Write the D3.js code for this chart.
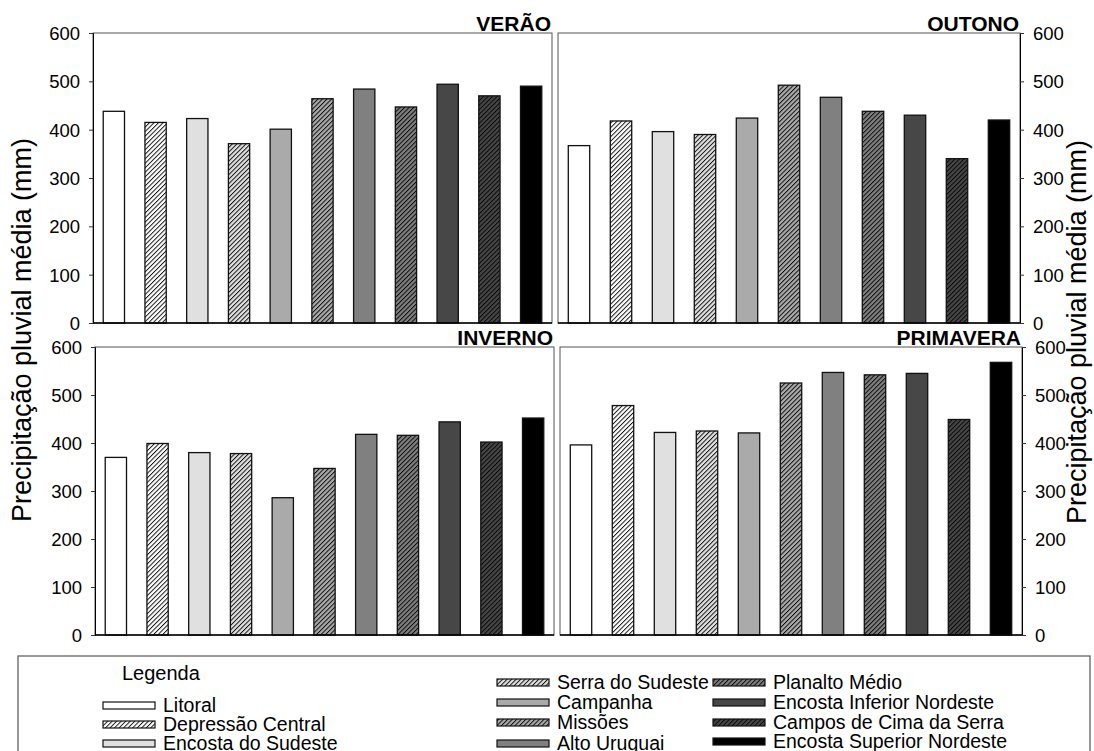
<!DOCTYPE html>
<html>
<head>
<meta charset="utf-8">
<title>Precipitação pluvial média por estação</title>
<script src="https://d3js.org/d3.v7.min.js"></script>
<style>
    html, body { margin: 0; padding: 0; background: #fff; }
    svg text { font-family: Arial, 'Liberation Sans', sans-serif; fill: #000; }
</style>
</head>
<body>
<div id="vis"></div>
<script>

// regions (one bar each) and seasons (one panel each)
var regions = ["Litoral", "Depressão Central", "Encosta do Sudeste", "Serra do Sudeste", "Campanha", "Missões",
               "Alto Uruguai", "Planalto Médio", "Encosta Inferior Nordeste", "Campos de Cima da Serra", "Encosta Superior Nordeste"];
var seasons = ["VERÃO", "OUTONO", "INVERNO", "PRIMAVERA"];

// mean rainfall (mm)
var verao     = [438, 415, 423, 371, 401, 464, 484, 447, 494, 470, 490];
var outono    = [367, 418, 396, 390, 424, 492, 467, 438, 430, 340, 420];
var inverno   = [370, 399, 380, 378, 286, 347, 418, 416, 444, 402, 452];
var primavera = [396, 478, 422, 425, 421, 525, 547, 542, 545, 449, 568];

var yTicks = [0, 100, 200, 300, 400, 500, 600];
var yTitle = "Precipitação pluvial média (mm)";
var legendTitle = "Legenda";

// styling per region
var fills   = ["#ffffff", "#ffffff", "#e0e0e0", "#e0e0e0", "#aaaaaa", "#aaaaaa", "#808080", "#808080", "#474747", "#474747", "#000000"];
var hatched = [false, true, false, true, false, true, false, true, false, true, false];

var W = 1094, H = 751;
var svg = d3.select('#vis').append('svg').attr('width', W).attr('height', H);
var defs = svg.append('defs');

// hatch patterns: fill colour + thin black "/" lines
fills.forEach(function(c, i) {
    if (!hatched[i]) return;
    var p = defs.append('pattern')
        .attr('id', 'hatch' + i)
        .attr('patternUnits', 'userSpaceOnUse')
        .attr('width', 3.2).attr('height', 3.2)
        .attr('patternTransform', 'rotate(45)');
    p.append('rect').attr('width', 3.2).attr('height', 3.2).attr('fill', c);
    p.append('line').attr('x1', 0.5).attr('y1', 0).attr('x2', 0.5).attr('y2', 3.2)
        .attr('stroke', '#000').attr('stroke-width', 0.9);
});
function fillOf(i) { return hatched[i] ? 'url(#hatch' + i + ')' : fills[i]; }

var panels = [
    {name: seasons[0], data: verao,     x0: 93,  x1: 552,  y0: 33,  y1: 323, side: 'left'},
    {name: seasons[1], data: outono,    x0: 558, x1: 1020, y0: 33,  y1: 323, side: 'right'},
    {name: seasons[2], data: inverno,   x0: 95,  x1: 554,  y0: 347, y1: 635, side: 'left'},
    {name: seasons[3], data: primavera, x0: 560, x1: 1022, y0: 347, y1: 635, side: 'right'}
];

panels.forEach(function(p) {
    var x_scale = d3.scaleBand().domain(regions).range([p.x0, p.x1]).paddingInner(0.49).paddingOuter(0.245);
    var y_scale = d3.scaleLinear().domain([0, 600]).range([p.y1, p.y0]);
    var g = svg.append('g');

    // frame
    g.append('rect')
        .attr('x', p.x0).attr('y', p.y0)
        .attr('width', p.x1 - p.x0).attr('height', p.y1 - p.y0)
        .attr('fill', 'none').attr('stroke', '#555').attr('stroke-width', 1);

    // bars
    g.selectAll('.bar').data(p.data).enter().append('rect')
        .attr('class', 'bar')
        .attr('x', function(d, i) { return x_scale(regions[i]); })
        .attr('y', function(d) { return y_scale(d); })
        .attr('width', x_scale.bandwidth())
        .attr('height', function(d) { return y_scale(0) - y_scale(d); })
        .attr('fill', function(d, i) { return fillOf(i); })
        .attr('stroke', '#111').attr('stroke-width', 1.3);

    // bottom line
    g.append('line').attr('x1', p.x0).attr('x2', p.x1).attr('y1', p.y1).attr('y2', p.y1)
        .attr('stroke', '#000').attr('stroke-width', 1.5);

    // y axis
    var axis = (p.side == 'left' ? d3.axisLeft(y_scale) : d3.axisRight(y_scale))
        .tickValues(yTicks).tickSizeOuter(0).tickSize(4).tickPadding(9);
    var ax = svg.append('g')
        .attr('transform', 'translate(' + (p.side == 'left' ? p.x0 : p.x1) + ',0)')
        .call(axis);
    ax.select('.domain').attr('stroke', '#000');
    ax.selectAll('.tick line').attr('stroke', '#333');
    ax.selectAll('text').style('font-size', '18.5px').attr('dy', '0.35em');

    // panel title
    svg.append('text')
        .attr('x', p.x1 - 1).attr('y', p.y0 - 2)
        .attr('text-anchor', 'end')
        .style('font-size', '21px').style('font-weight', 'bold')
        .text(p.name);
});

// y axis titles
svg.append('text')
    .attr('transform', 'translate(31,330) rotate(-90)')
    .attr('text-anchor', 'middle')
    .style('font-size', '27px')
    .text(yTitle);
svg.append('text')
    .attr('transform', 'translate(1086,332) rotate(-90)')
    .attr('text-anchor', 'middle')
    .style('font-size', '27px')
    .text(yTitle);

// legend
var leg = svg.append('g');
leg.append('rect').attr('x', 18).attr('y', 656).attr('width', 1072).attr('height', 120)
    .attr('fill', '#fff').attr('stroke', '#555').attr('stroke-width', 1.2);
leg.append('text').attr('x', 122).attr('y', 680).style('font-size', '20px').text(legendTitle);

var legCols = [103, 497, 713];
var legRows = [[712, 731, 750], [689, 709, 729, 750], [689, 709, 729, 748]];
var k = 0;
legRows.forEach(function(rows, c) {
    rows.forEach(function(y) {
        var i = k++;
        leg.append('rect')
            .attr('x', legCols[c]).attr('y', y - 10)
            .attr('width', 52).attr('height', 7)
            .attr('fill', fillOf(i)).attr('stroke', '#111').attr('stroke-width', 1.2);
        leg.append('text')
            .attr('x', legCols[c] + 60).attr('y', y)
            .style('font-size', '19.5px')
            .text(regions[i]);
    });
});

</script>
</body>
</html>
